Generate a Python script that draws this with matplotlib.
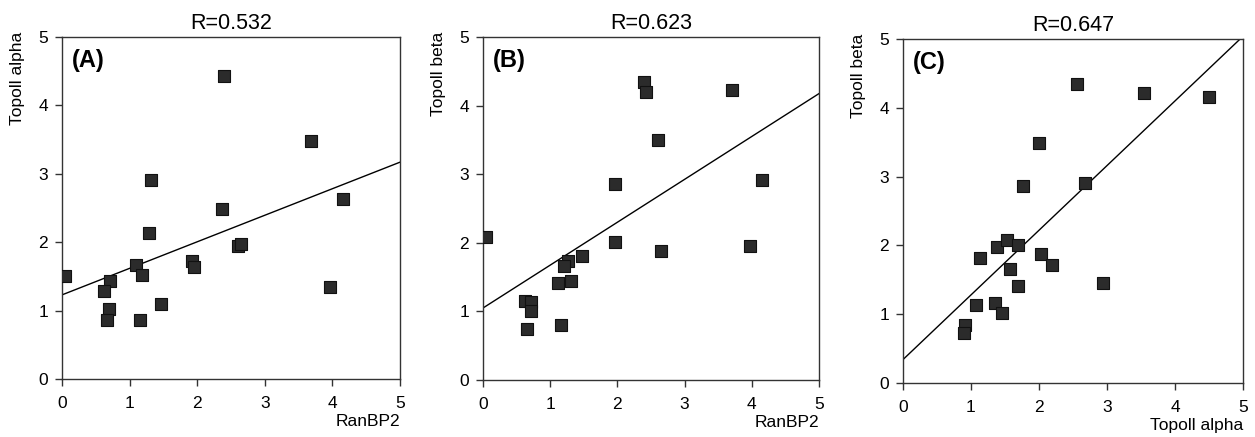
import numpy as np
import matplotlib
matplotlib.use("Agg")
import matplotlib.pyplot as plt

plt.rcParams['font.family'] = ['Liberation Sans', 'DejaVu Sans']

# panel A: RanBP2 vs Topoll alpha
ran_a = [0.05, 2.40, 3.68, 1.31, 2.36, 4.15, 1.28, 2.60, 2.65, 1.93,
         1.96, 1.10, 1.19, 0.71, 0.62, 0.70, 0.66, 1.15, 1.46, 3.96]
alpha_a = [1.50, 4.43, 3.48, 2.91, 2.49, 2.63, 2.14, 1.95, 1.98, 1.72,
           1.64, 1.66, 1.52, 1.44, 1.29, 1.03, 0.87, 0.86, 1.10, 1.34]

# panel B: RanBP2 vs Topoll beta
ran_b = [0.05, 2.39, 2.42, 3.70, 2.60, 1.96, 4.15, 1.97, 2.65, 3.97,
         1.47, 1.27, 1.20, 1.31, 1.12, 0.63, 0.71, 0.71, 0.66, 1.16]
beta_b = [2.08, 4.35, 4.20, 4.22, 3.50, 2.86, 2.91, 2.01, 1.88, 1.96,
          1.81, 1.74, 1.66, 1.45, 1.42, 1.15, 1.13, 1.00, 0.74, 0.80]

# panel C: Topoll alpha vs Topoll beta
alpha_c = [2.56, 3.55, 4.50, 2.00, 1.76, 2.68, 1.39, 1.53, 1.69, 1.13,
           2.03, 2.19, 1.58, 1.69, 2.94, 1.07, 1.35, 1.46, 0.91, 0.90]
beta_c = [4.35, 4.22, 4.16, 3.49, 2.87, 2.91, 1.97, 2.08, 2.00, 1.81,
          1.87, 1.71, 1.65, 1.41, 1.45, 1.14, 1.16, 1.02, 0.85, 0.73]

# fitted lines (slope, intercept) as shown
fit_a = (0.388, 1.23)
fit_b = (0.625, 1.05)
fit_c = (0.94, 0.34)

titles = ["R=0.532", "R=0.623", "R=0.647"]
tags = ["(A)", "(B)", "(C)"]
xlabels = ["RanBP2", "RanBP2", "Topoll alpha"]
ylabels = ["Topoll alpha", "Topoll beta", "Topoll beta"]
ticks = [0, 1, 2, 3, 4, 5]

fig = plt.figure(figsize=(12.55, 4.37), dpi=100)
rects = [[0.0494, 0.1327, 0.2693, 0.7826],
         [0.3849, 0.1304, 0.2677, 0.7850],
         [0.7195, 0.1236, 0.2709, 0.7870]]
panels = [(ran_a, alpha_a, fit_a), (ran_b, beta_b, fit_b), (alpha_c, beta_c, fit_c)]

for i in range(3):
    xs, ys, fit = panels[i]
    ax = fig.add_axes(rects[i])
    ax.scatter(xs, ys, marker='s', s=68, color='#2b2b2b', edgecolors='#111111',
               linewidths=0.8, zorder=3)
    lx = np.array([0, 5])
    ax.plot(lx, fit[0] * lx + fit[1], color='black', lw=1.0, zorder=2)
    ax.set_xlim(0, 5)
    ax.set_ylim(0, 5)
    ax.set_xticks(ticks)
    ax.set_yticks(ticks)
    ax.tick_params(direction='out', length=5, width=1, labelsize=12.5,
                   color='#333333')
    ax.tick_params(axis='x', pad=7)
    ax.tick_params(axis='y', pad=5)
    for sp in ax.spines.values():
        sp.set_color('#333333')
        sp.set_linewidth(1.0)
    ax.set_title(titles[i], fontsize=15.5, pad=6)
    ax.text(0.03, 0.965, tags[i], transform=ax.transAxes, fontsize=17,
            fontweight='bold', ha='left', va='top')
    ax.set_xlabel(xlabels[i], fontsize=12.5, loc='right')
    ax.xaxis.set_label_coords(1.0, -0.103)
    ax.set_ylabel(ylabels[i], fontsize=12.5, loc='top')
    ax.yaxis.set_label_coords(-0.11, 1.015)

fig.savefig("out.png", dpi=100)
